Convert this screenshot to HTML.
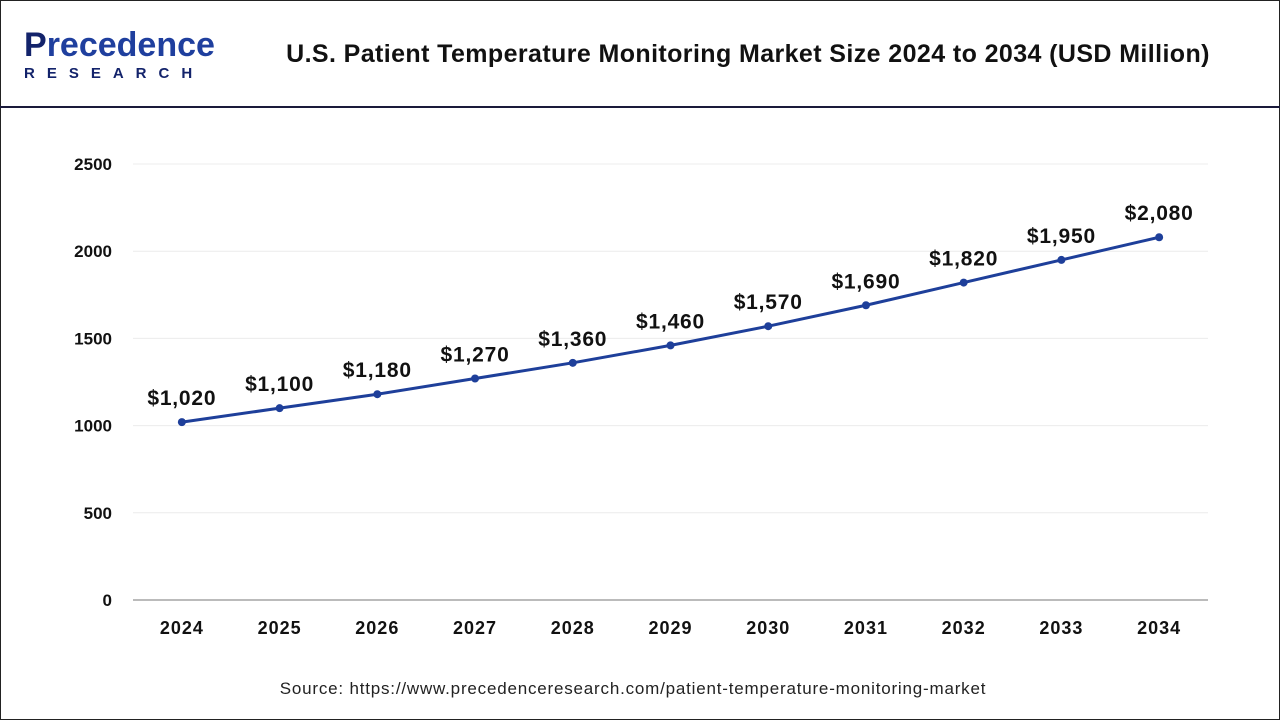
<!DOCTYPE html>
<html><head><meta charset="utf-8"><style>
body{margin:0;width:1280px;height:720px;background:#fff;font-family:"Liberation Sans",Arial,sans-serif;overflow:hidden}
#frame{position:absolute;left:0;top:0;width:1278px;height:718px;border:1px solid #222}
#hdr{position:absolute;left:0;top:0;width:1280px;height:106px;border-bottom:2px solid #1a1a3a}
</style></head><body>
<div id="frame"></div>
<div id="hdr">
  <div style="position:absolute;left:24px;top:28px">
    <div style="font-size:34px;font-weight:bold;color:#1f3f9e;letter-spacing:0px;line-height:34px"><span style="color:#13236b">P</span>recedence</div>
    <div style="font-size:15px;font-weight:bold;color:#13236b;letter-spacing:12px;margin-top:3px">RESEARCH</div>
  </div>
  <div style="position:absolute;left:268px;width:960px;top:40px;text-align:center;font-size:25px;letter-spacing:0.4px;font-weight:bold;color:#111">U.S. Patient Temperature Monitoring Market Size 2024 to 2034 (USD Million)</div>
</div>
<svg id="chart" width="1280" height="720" style="position:absolute;left:0;top:0"></svg>
<div style="position:absolute;left:0;width:1266px;top:679px;text-align:center;font-size:17px;letter-spacing:0.8px;color:#222">Source: https://www.precedenceresearch.com/patient-temperature-monitoring-market</div>
<script>
const years=["2024","2025","2026","2027","2028","2029","2030","2031","2032","2033","2034"];
const values=[1020,1100,1180,1270,1360,1460,1570,1690,1820,1950,2080];
const labels=["$1,020","$1,100","$1,180","$1,270","$1,360","$1,460","$1,570","$1,690","$1,820","$1,950","$2,080"];
const yTicks=[0,500,1000,1500,2000,2500];
const NS="http://www.w3.org/2000/svg";
const svg=document.getElementById('chart');
const x0=133,x1=1208,y0=600,yTop=164,yMax=2500;
const step=(x1-x0)/years.length;
const xs=i=>x0+step*(i+0.5);
const ys=v=>y0-(v/yMax)*(y0-yTop);
function mk(t,a){const e=document.createElementNS(NS,t);for(const k in a)e.setAttribute(k,a[k]);svg.appendChild(e);return e;}
yTicks.forEach(t=>{
  const g=mk('line',{x1:x0,x2:x1,y1:ys(t),y2:ys(t),stroke:t===0?'#bbb':'#ececec','stroke-width':t===0?2:1});
  
  
  const l=mk('text',{x:112,y:ys(t)+6,'text-anchor':'end','font-size':17,'font-weight':'bold',fill:'#111'});
  l.textContent=t;
  
  
});
years.forEach((y,i)=>{
  const l=mk('text',{x:xs(i),y:634,'text-anchor':'middle','font-size':18,'letter-spacing':1,'font-weight':'bold',fill:'#111'});
  l.textContent=y;
  
  
});
const line=mk('polyline',{points:values.map((v,i)=>xs(i)+','+ys(v)).join(' '),fill:'none',stroke:'#1e3f9a','stroke-width':3});


values.forEach((v,i)=>{
  const c=mk('circle',{cx:xs(i),cy:ys(v),r:4,fill:'#1e3f9a'});
  
  
  const t=mk('text',{x:xs(i),y:ys(v)-17,'text-anchor':'middle','font-size':21,'letter-spacing':0.8,'font-weight':'bold',fill:'#111'});
  t.textContent=labels[i];
  
  
});
</script>
</body></html>
